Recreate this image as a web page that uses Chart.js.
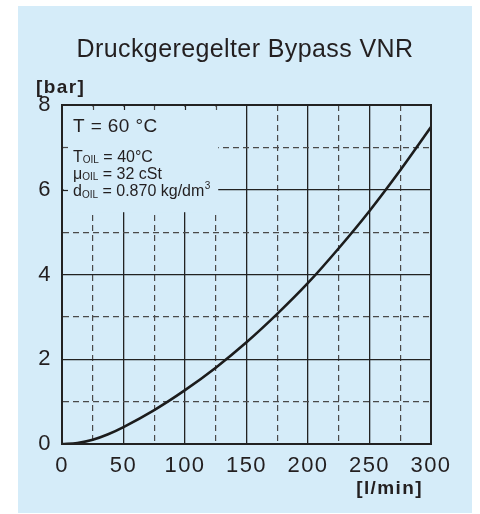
<!DOCTYPE html>
<html>
<head>
<meta charset="utf-8">
<script src="https://cdn.jsdelivr.net/npm/chart.js@4/dist/chart.umd.min.js"></script>
<style>
    html, body { margin: 0; padding: 0; background: #ffffff; }
    #chartBox { width: 480px; height: 514px; }
</style>
</head>
<body>
<div id="chartBox"><canvas id="bypassChart" width="480" height="514"></canvas></div>
<script>
// values
const flowRates = [0, 12.5, 25, 37.5, 50, 75, 100, 125, 150, 175, 200, 225, 250, 275, 300]; // l/min
const pressures = [0, 0.025, 0.10, 0.23, 0.40, 0.80, 1.27, 1.80, 2.40, 3.07, 3.80, 4.62, 5.50, 6.46, 7.48]; // bar
const xTickLabels = [0, 50, 100, 150, 200, 250, 300];
const yTickLabels = [0, 2, 4, 6, 8];

const COLORS = {
    panel: "#d5ecf9",
    text: "#231f20",
    solid: "#222222",
    dashed: "#4a4a4a",
    curve: "#1c1c1c",
};
const FONT = "'Liberation Sans', Arial, Helvetica, sans-serif";

// light blue panel + fonts spacing
const panelPlugin = {
    id: "panel",
    beforeDraw(chart) {
        const ctx = chart.ctx;
        ctx.save();
        ctx.fillStyle = COLORS.panel;
        ctx.fillRect(18, 6, 454, 507);
        ctx.restore();
        ctx.letterSpacing = "1.5px";
    },
};

// the text block in the top-left hides the grid under it
const notePlugin = {
    id: "note",
    beforeDatasetsDraw(chart) {
        const { ctx, chartArea, scales } = chart;
        const x = scales.x;
        const y = scales.y;
        const right = x.getPixelForValue(127);
        const bottom = y.getPixelForValue(5.47);
        ctx.save();
        ctx.fillStyle = COLORS.panel;
        ctx.fillRect(chartArea.left + 1.5, chartArea.top + 1.5, right - chartArea.left - 1.5, bottom - chartArea.top - 1.5);

        // short ticks left on the frame
        ctx.lineWidth = 1.2;
        [25, 50, 75, 100, 125].forEach((v) => {
            const px = Math.round(x.getPixelForValue(v)) + 0.5;
            ctx.strokeStyle = v % 50 ? COLORS.dashed : COLORS.solid;
            ctx.beginPath();
            ctx.moveTo(px, chartArea.top);
            ctx.lineTo(px, chartArea.top + 5);
            ctx.stroke();
        });
        [7, 6].forEach((v) => {
            const py = Math.round(y.getPixelForValue(v)) + 0.5;
            ctx.strokeStyle = v % 2 ? COLORS.dashed : COLORS.solid;
            ctx.beginPath();
            ctx.moveTo(chartArea.left, py);
            ctx.lineTo(chartArea.left + 6, py);
            ctx.stroke();
        });
        ctx.restore();
    },
    afterDatasetsDraw(chart) {
        const ctx = chart.ctx;
        ctx.save();
        ctx.fillStyle = COLORS.text;
        ctx.textBaseline = "alphabetic";
        ctx.textAlign = "left";
        ctx.letterSpacing = "0.4px";
        ctx.font = `19px ${FONT}`;
        ctx.fillText("T = 60 °C", 73, 132);

        ctx.letterSpacing = "0px";
        const rows = [
            ["T", "OIL", " = 40°C", "", 161.5],
            ["μ", "OIL", " = 32 cSt", "", 178.5],
            ["d", "OIL", " = 0.870 kg/dm", "3", 196],
        ];
        rows.forEach(([main, sub, rest, sup, base]) => {
            let cx = 73;
            ctx.font = `16px ${FONT}`;
            ctx.fillText(main, cx, base);
            cx += ctx.measureText(main).width;
            ctx.font = `10px ${FONT}`;
            ctx.fillText(sub, cx, base + 1.5);
            cx += ctx.measureText(sub).width;
            ctx.font = `16px ${FONT}`;
            ctx.fillText(rest, cx, base);
            cx += ctx.measureText(rest).width;
            if (sup) {
                ctx.font = `10px ${FONT}`;
                ctx.fillText(sup, cx + 0.5, base - 7);
            }
        });
        ctx.restore();
    },
    afterDraw(chart) {
        const ctx = chart.ctx;
        const { chartArea } = chart;
        ctx.save();
        // frame
        ctx.strokeStyle = COLORS.solid;
        ctx.lineWidth = 2;
        ctx.strokeRect(chartArea.left, chartArea.top, chartArea.right - chartArea.left, chartArea.bottom - chartArea.top);

        ctx.fillStyle = COLORS.text;
        ctx.textBaseline = "alphabetic";
        ctx.letterSpacing = "0.4px";
        ctx.font = `25px ${FONT}`;
        ctx.textAlign = "center";
        ctx.fillText("Druckgeregelter Bypass VNR", 245, 57);

        ctx.font = `bold 19px ${FONT}`;
        ctx.letterSpacing = "1.4px";
        ctx.textAlign = "left";
        ctx.fillText("[bar]", 36, 93);
        ctx.textAlign = "right";
        ctx.fillText("[l/min]", 423, 494);
        ctx.restore();
    },
};

function gridIsSolid(value, step) {
    return value % step === 0;
}

const ctx = document.getElementById("bypassChart");
const bypassChart = new Chart(ctx, {
    type: "line",
    data: {
        datasets: [
            {
                label: "Druckgeregelter Bypass VNR",
                data: flowRates.map((q, i) => ({ x: q, y: pressures[i] })),
                borderColor: COLORS.curve,
                borderWidth: 2.6,
                pointRadius: 0,
                cubicInterpolationMode: "monotone",
                fill: false,
            },
        ],
    },
    options: {
        responsive: false,
        animation: false,
        devicePixelRatio: 1,
        layout: { padding: { left: 0, right: 49, top: 105, bottom: 0 } },
        plugins: {
            legend: { display: false },
            title: { display: false },
            tooltip: { enabled: false },
        },
        scales: {
            x: {
                type: "linear",
                min: 0,
                max: 300,
                afterFit: (scale) => {
                    scale.height = 70;
                },
                afterBuildTicks: (scale) => {
                    scale.ticks = [];
                    for (let v = 0; v <= 300; v += 25) scale.ticks.push({ value: v });
                },
                ticks: {
                    padding: 9,
                    color: COLORS.text,
                    font: { family: FONT, size: 22 },
                    maxRotation: 0,
                    autoSkip: false,
                    callback: (v) => (xTickLabels.includes(v) ? String(v) : ""),
                },
                grid: {
                    drawTicks: false,
                    color: (c) => (gridIsSolid(c.tick.value, 50) ? COLORS.solid : COLORS.dashed),
                    lineWidth: (c) => (gridIsSolid(c.tick.value, 50) ? 1.3 : 1.2),
                },
                border: {
                    display: true,
                    color: COLORS.solid,
                    width: 2,
                    dash: (c) => (c.tick && !gridIsSolid(c.tick.value, 50) ? [6, 4] : []),
                },
            },
            y: {
                min: 0,
                max: 8,
                afterFit: (scale) => {
                    scale.width = 62;
                },
                afterBuildTicks: (scale) => {
                    scale.ticks = [];
                    for (let v = 0; v <= 8; v += 1) scale.ticks.push({ value: v });
                },
                ticks: {
                    padding: 10,
                    color: COLORS.text,
                    font: { family: FONT, size: 22 },
                    autoSkip: false,
                    callback: (v) => (yTickLabels.includes(v) ? String(v) : ""),
                },
                grid: {
                    drawTicks: false,
                    color: (c) => (gridIsSolid(c.tick.value, 2) ? COLORS.solid : COLORS.dashed),
                    lineWidth: (c) => (gridIsSolid(c.tick.value, 2) ? 1.3 : 1.2),
                },
                border: {
                    display: true,
                    color: COLORS.solid,
                    width: 2,
                    dash: (c) => (c.tick && !gridIsSolid(c.tick.value, 2) ? [6, 4] : []),
                },
            },
        },
    },
    plugins: [panelPlugin, notePlugin],
});
</script>
</body>
</html>
